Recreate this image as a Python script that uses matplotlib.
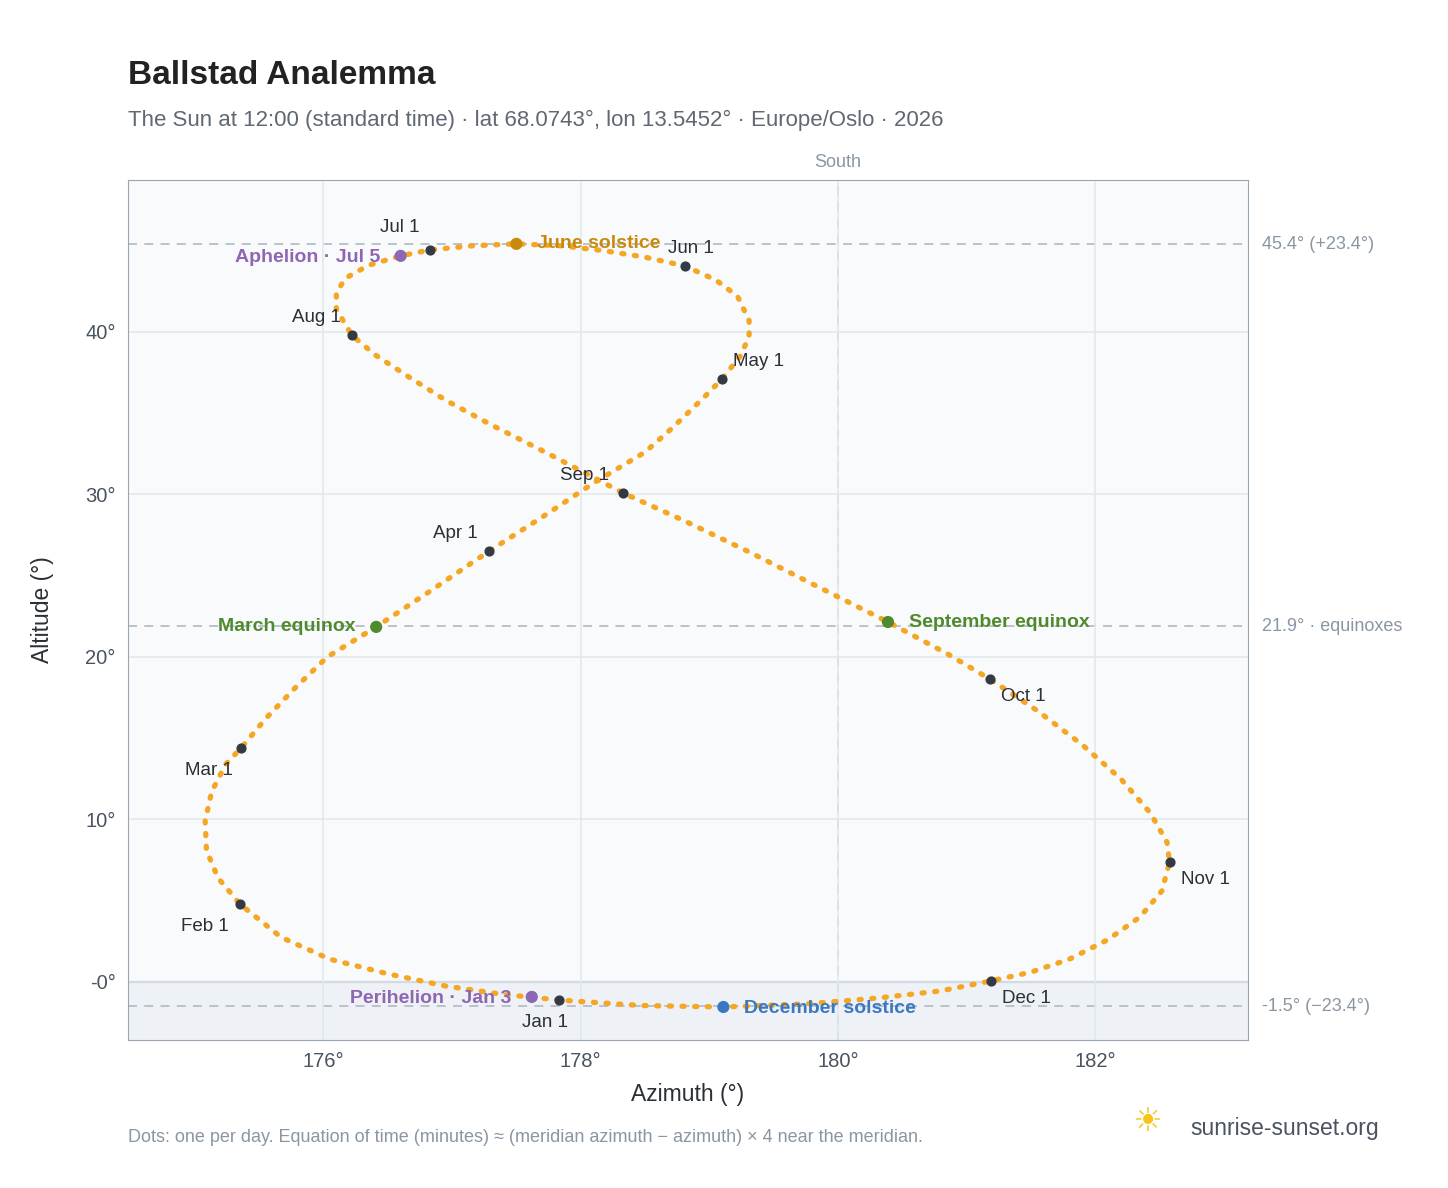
import matplotlib
matplotlib.use("Agg")
import matplotlib.pyplot as plt

# Sun position at noon, every 5 days
azimuth = [177.83, 177.38, 176.95, 176.50, 176.05, 175.67, 175.35, 175.18, 175.09, 175.08,
           175.13, 175.24, 175.36, 175.55, 175.78, 176.03, 176.41, 176.82, 177.29, 177.70,
           178.10, 178.50, 178.70, 178.95, 179.10, 179.24, 179.31, 179.31, 179.22, 179.05,
           178.81, 178.50, 178.18, 177.85, 177.50, 177.16, 176.83, 176.60, 176.35, 176.17,
           176.10, 176.10, 176.22, 176.40, 176.65, 176.95, 177.30, 177.75, 178.33, 178.80,
           179.30, 179.80, 180.39, 180.85, 181.18, 181.55, 181.90, 182.20, 182.43, 182.56,
           182.58, 182.52, 182.35, 182.10, 181.80, 181.50, 181.19, 180.80, 180.30, 179.75,
           179.11, 178.47, 177.90]
altitude = [-1.11, -0.75, -0.25, 0.50, 1.40, 2.75, 4.80, 6.40, 8.10, 9.90,
            11.70, 13.40, 14.40, 16.20, 18.10, 20.00, 21.85, 24.00, 26.52, 28.60,
            30.70, 32.60, 34.00, 35.90, 37.11, 38.50, 39.70, 40.70, 42.20, 43.20,
            44.06, 44.60, 45.00, 45.30, 45.42, 45.30, 45.05, 44.68, 44.10, 43.30,
            42.40, 41.40, 39.80, 38.60, 37.30, 35.80, 34.30, 32.50, 30.09, 28.40,
            26.50, 24.50, 22.15, 20.20, 18.65, 16.70, 14.60, 12.50, 10.40, 8.60,
            7.38, 5.60, 4.00, 2.60, 1.40, 0.60, 0.06, -0.55, -1.00, -1.35,
            -1.54, -1.45, -1.15]

month_labels = ["Jan 1", "Feb 1", "Mar 1", "Apr 1", "May 1", "Jun 1",
                "Jul 1", "Aug 1", "Sep 1", "Oct 1", "Nov 1", "Dec 1"]
month_az = [177.83, 175.35, 175.36, 177.29, 179.10, 178.81, 176.83, 176.22, 178.33, 181.18, 182.58, 181.19]
month_alt = [-1.11, 4.80, 14.40, 26.52, 37.11, 44.06, 45.05, 39.80, 30.09, 18.65, 7.38, 0.06]

events = ["June solstice", "December solstice", "March equinox", "September equinox",
          "Aphelion · Jul 5", "Perihelion · Jan 3"]
event_az = [177.50, 179.11, 176.41, 180.39, 176.60, 177.62]
event_alt = [45.42, -1.54, 21.85, 22.15, 44.68, -0.92]
event_colors = ["#c98a0c", "#3a78c3", "#4f8a2e", "#4f8a2e", "#8e66b3", "#8e66b3"]

ref_alt = [45.4, 21.9, -1.5]
ref_labels = ["45.4° (+23.4°)", "21.9° · equinoxes", "-1.5° (−23.4°)"]

plt.rcParams["font.family"] = ["Liberation Sans", "DejaVu Sans"]
fig = plt.figure(figsize=(14.48, 11.88), dpi=100)
ax = fig.add_axes([0.0884, 0.1246, 0.7735, 0.7239])
ax.set_xlim(174.48, 183.19)
ax.set_ylim(-3.57, 49.35)
ax.set_facecolor("#f8fafc")
ax.axhspan(-3.57, 0, color="#eef2f6", zorder=0)
ax.grid(color="#e3e8ee", linewidth=1.2, zorder=0)
ax.axhline(0, color="#8a96a3", linewidth=1.5, zorder=1)
for s in ax.spines.values():
    s.set_color("#9aa5b1")

for a, lab in zip(ref_alt, ref_labels):
    ax.axhline(a, color="#b5bec7", linestyle=(0, (5, 4)), linewidth=1.3, zorder=1)
    ax.text(183.3, a, lab, color="#8a96a3", fontsize=13, va="center", clip_on=False)
ax.axvline(180, color="#b5bec7", linestyle=(0, (5, 4)), linewidth=1.3, zorder=1)
ax.text(180, 49.9, "South", color="#8a96a3", fontsize=13, ha="center", va="bottom")

ax.plot(azimuth + azimuth[:1], altitude + altitude[:1], linestyle=(0, (0.4, 2.0)),
        color="#f5a623", linewidth=3.8, dash_capstyle="round", zorder=2)

ax.scatter(month_az, month_alt, s=40, color="#333a44", zorder=4)
offsets = [(-5, -10, "center"), (-4, -10, "right"), (-3, -10, "right"), (-4, 8, "right"),
           (4, 8, "left"), (-6, 8, "left"), (-4, 10, "right"), (-4, 8, "right"),
           (-5, 8, "right"), (4, -8, "left"), (4, -8, "left"), (4, -8, "left")]
for lab, x, y, (dx, dy, ha) in zip(month_labels, month_az, month_alt, offsets):
    ax.annotate(lab, (x, y), xytext=(dx * 2, dy * 1.6), textcoords="offset points",
                ha=ha, va="center", fontsize=13.5, color="#2b2f36")

ax.scatter(event_az, event_alt, s=60, color=event_colors, zorder=5)
ev_off = [(15, 0, "left"), (15, -1, "left"), (-15, 0, "right"), (15, 0, "left"),
          (-15, -1, "right"), (-15, -1, "right")]
for lab, x, y, c, (dx, dy, ha) in zip(events, event_az, event_alt, event_colors, ev_off):
    ax.annotate(lab, (x, y), xytext=(dx, dy), textcoords="offset points", ha=ha, va="center",
                fontsize=14, color=c, fontweight="bold")

ax.set_xticks([176, 178, 180, 182])
ax.set_xticklabels(["176°", "178°", "180°", "182°"])
ax.set_yticks([0, 10, 20, 30, 40])
ax.set_yticklabels(["-0°", "10°", "20°", "30°", "40°"])
ax.tick_params(length=0, labelsize=14.5, colors="#4a5360", pad=9)
ax.set_xlabel("Azimuth (°)", fontsize=16.5, color="#2b2f36", labelpad=8)
ax.set_ylabel("Altitude (°)", fontsize=16.5, color="#2b2f36", labelpad=22)

fig.text(0.0884, 0.929, "Ballstad Analemma", fontsize=24, fontweight="bold", color="#222")
fig.text(0.0884, 0.894, "The Sun at 12:00 (standard time) · lat 68.0743°, lon 13.5452° · Europe/Oslo · 2026",
         fontsize=16, color="#5f6873")
fig.text(0.0884, 0.039, "Dots: one per day. Equation of time (minutes) ≈ (meridian azimuth − azimuth) × 4 near the meridian.",
         fontsize=13, color="#8a96a3")
fig.text(0.822, 0.045, "sunrise-sunset.org", fontsize=16.5, color="#4a5360")
fig.text(0.792, 0.047, "☀", fontsize=24, color="#f5c518", ha="center")

fig.savefig("out.png", dpi=100)
